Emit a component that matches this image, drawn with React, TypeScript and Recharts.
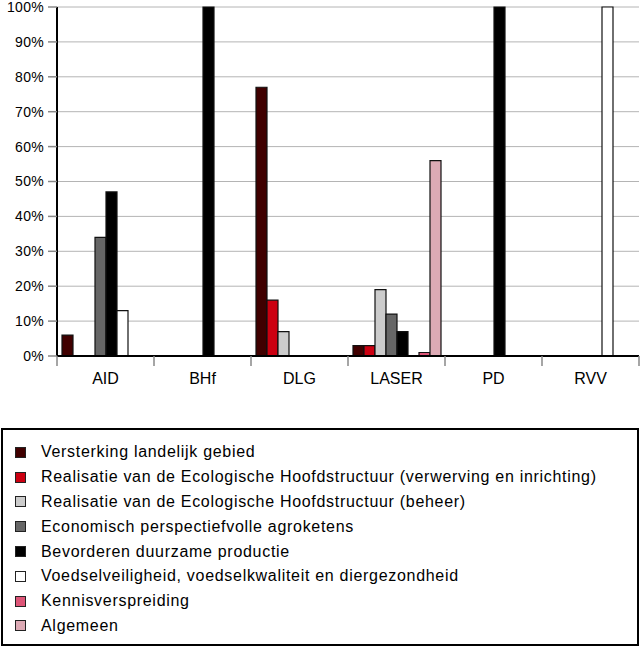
import React from "react";
import { BarChart, Bar, XAxis, YAxis, CartesianGrid } from "recharts";

const categories = ["AID", "BHf", "DLG", "LASER", "PD", "RVV"];

const versterking = [6, 0, 77, 3, 0, 0];
const realisatieVerwerving = [0, 0, 16, 3, 0, 0];
const realisatieBeheer = [0, 0, 7, 19, 0, 0];
const economisch = [34, 0, 0, 12, 0, 0];
const bevorderen = [47, 100, 0, 7, 100, 0];
const voedsel = [13, 0, 0, 0, 0, 100];
const kennis = [0, 0, 0, 1, 0, 0];
const algemeen = [0, 0, 0, 56, 0, 0];

const yTicks = [0, 10, 20, 30, 40, 50, 60, 70, 80, 90, 100];

const series = [
  { key: "s1", name: "Versterking landelijk gebied", values: versterking, color: "#400000" },
  { key: "s2", name: "Realisatie van de Ecologische Hoofdstructuur (verwerving en inrichting)", values: realisatieVerwerving, color: "#cc0011" },
  { key: "s3", name: "Realisatie van de Ecologische Hoofdstructuur (beheer)", values: realisatieBeheer, color: "#cccccc" },
  { key: "s4", name: "Economisch perspectiefvolle agroketens", values: economisch, color: "#666666" },
  { key: "s5", name: "Bevorderen duurzame productie", values: bevorderen, color: "#000000" },
  { key: "s6", name: "Voedselveiligheid, voedselkwaliteit en diergezondheid", values: voedsel, color: "#ffffff" },
  { key: "s7", name: "Kennisverspreiding", values: kennis, color: "#dd5577" },
  { key: "s8", name: "Algemeen", values: algemeen, color: "#ddaab5" },
];

const data = categories.map((name, i) => {
  const row: Record<string, string | number> = { name };
  series.forEach((s) => {
    row[s.key] = s.values[i];
  });
  return row;
});

// category label centred, tick mark on the left boundary of each band
function CategoryTick(props: any) {
  const { x, y, payload, index } = props;
  const half = payload && payload.offset ? payload.offset : 48.5;
  return (
    <g>
      <line x1={x - half} y1={y} x2={x - half} y2={y + 10} stroke="#888" strokeWidth={1.5} />
      {index === categories.length - 1 && (
        <line x1={x + half} y1={y} x2={x + half} y2={y + 10} stroke="#888" strokeWidth={1.5} />
      )}
      <text x={x} y={y + 28} textAnchor="middle" fontSize={16} fill="#000">
        {payload.value}
      </text>
    </g>
  );
}

export default function App() {
  return (
    <div
      style={{
        position: "absolute",
        left: 0,
        top: 0,
        width: 641,
        height: 651,
        fontFamily: "'Liberation Sans', Arial, sans-serif",
        background: "#fff",
      }}
    >
      <BarChart
        width={641}
        height={400}
        data={data}
        margin={{ top: 7, right: 2, left: 0, bottom: 10 }}
        barGap={0}
      >
        <CartesianGrid vertical={false} stroke="#b4b4b4" strokeWidth={1} />
        <XAxis
          dataKey="name"
          height={34}
          axisLine={{ stroke: "#000", strokeWidth: 2 }}
          tickLine={false}
          tickSize={0}
          tickMargin={0}
          interval={0}
          tick={<CategoryTick />}
        />
        <XAxis
          xAxisId="top"
          dataKey="name"
          orientation="top"
          height={0}
          tick={false}
          tickLine={false}
          axisLine={{ stroke: "#000", strokeWidth: 2 }}
        />
        <YAxis
          width={57}
          domain={[0, 100]}
          ticks={yTicks}
          interval={0}
          tickFormatter={(v) => `${v}%`}
          tick={{ fontSize: 14, fill: "#000", letterSpacing: 0.3 }}
          tickSize={9}
          tickMargin={4}
          tickLine={{ stroke: "#888", strokeWidth: 1.5 }}
          axisLine={{ stroke: "#000", strokeWidth: 2 }}
        />
        <YAxis
          yAxisId="right"
          orientation="right"
          width={0}
          domain={[0, 100]}
          tick={false}
          tickLine={false}
          axisLine={{ stroke: "#000", strokeWidth: 1.5 }}
        />
        {series.map((s) => (
          <Bar
            key={s.key}
            dataKey={s.key}
            name={s.name}
            fill={s.color}
            stroke="#111"
            strokeWidth={1.2}
            barSize={11}
            isAnimationActive={false}
          />
        ))}
      </BarChart>

      <div
        style={{
          position: "absolute",
          left: 1,
          top: 428,
          width: 638,
          height: 218,
          border: "2px solid #000",
          boxSizing: "border-box",
          paddingTop: 10,
        }}
      >
        {series.map((s) => (
          <div
            key={s.key}
            style={{
              height: 24.8,
              display: "flex",
              alignItems: "center",
              fontSize: 16,
              letterSpacing: 0.7,
              color: "#000",
              whiteSpace: "nowrap",
            }}
          >
            <span
              style={{
                display: "inline-block",
                flex: "none",
                width: 11,
                height: 11,
                marginLeft: 12,
                marginRight: 15,
                background: s.color,
                border: "1.5px solid #222",
                boxSizing: "border-box",
              }}
            />
            <span>{s.name}</span>
          </div>
        ))}
      </div>
    </div>
  );
}
